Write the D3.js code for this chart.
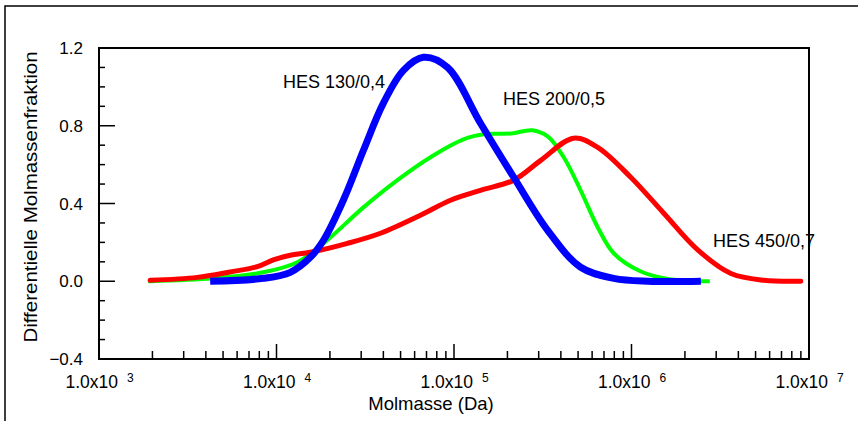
<!DOCTYPE html>
<html>
<head>
<meta charset="utf-8">
<script src="https://cdn.jsdelivr.net/npm/d3@7"></script>
<style>
body{margin:0;background:#fff;}
text{font-family:"Liberation Sans",Arial,sans-serif;fill:#000;}
</style>
</head>
<body>
<script>
// molmass (Da) / differential fraction
const hes130 = [[4230,0.0],[8420,0.015],[11960,0.046],[15500,0.123],[18400,0.211],[23800,0.417],
	[30900,0.674],[40000,0.916],[51900,1.085],[67300,1.152],[91900,1.10],[141000,0.813],
	[217000,0.535],[337000,0.262],[517000,0.072],[794000,0.015],[1240000,0.0],[2460000,0.0]];
const hes200 = [[1940,0.0],[4400,0.015],[8420,0.046],[13100,0.098],[18400,0.195],[30900,0.38],
	[48000,0.52],[73700,0.638],[113000,0.73],[150000,0.757],[210000,0.76],[275000,0.777],
	[337000,0.745],[415000,0.638],[517000,0.468],[645000,0.278],[794000,0.144],[1130000,0.05],
	[1600000,0.012],[2690000,0.0]];
const hes450 = [[1940,0.005],[3570,0.02],[5480,0.048],[7790,0.075],[9590,0.11],[11960,0.134],
	[15500,0.149],[25100,0.195],[38500,0.247],[64700,0.34],[95500,0.417],[141000,0.468],
	[217000,0.52],[308000,0.622],[472000,0.736],[645000,0.689],[990000,0.535],[1520000,0.35],
	[2370000,0.16],[3630000,0.04],[5570000,0.005],[9000000,0.0]];
const yTicks = [-0.4,0.0,0.4,0.8,1.2];
const xTicks = [1e3,1e4,1e5,1e6,1e7];
const xExp = ["3","4","5","6","7"];
const labels = [["HES 130/0,4",283,88],["HES 200/0,5",503,105],["HES 450/0,7",713,247]];

const W = 858, H = 421;
const svg = d3.select("body").append("svg").attr("width",W).attr("height",H);

// outer frame (top + left visible)
svg.append("path").attr("d","M5,421V6H858").attr("fill","none").attr("stroke","#000").attr("stroke-width",1.5);

const x = d3.scaleLog().domain([1e3,1e7]).range([99,809]);
const y = d3.scaleLinear().domain([-0.4,1.2]).range([359,48]);

function htext(g,str,tx,ty,size,anchor){
	return g.append("text")
		.attr("x",tx).attr("y",ty)
		.attr("font-size",size)
		.attr("text-anchor",anchor||"start")
		.text(str);
}

// minor + major ticks
const ax = svg.append("g").attr("stroke","#000");
x.ticks().forEach(function(t){
	const major = xTicks.indexOf(t) >= 0;
	ax.append("line").attr("x1",x(t)).attr("x2",x(t))
		.attr("y1",359).attr("y2",359-(major?15:8)).attr("stroke-width",1.5);
});
d3.range(-4,13).forEach(function(i){
	const v = i/10, major = i%4==0;
	ax.append("line").attr("x1",99).attr("x2",99+(major?16:6))
		.attr("y1",y(v)).attr("y2",y(v)).attr("stroke-width",1.5);
});
// frame of plot
ax.append("rect").attr("x",99).attr("y",48).attr("width",710).attr("height",311)
	.attr("fill","none").attr("stroke-width",2);

// tick labels
yTicks.forEach(function(v){
	htext(svg,d3.format(".1f")(v),83,y(v)+6,17,"end");
});
xTicks.forEach(function(t,i){
	htext(svg,"1.0x10",x(t)+19,388,17.5,"end");
	htext(svg,xExp[i],x(t)+28,382,12,"start");
});

// axis titles
htext(svg,"Molmasse (Da)",431,410,18.5,"middle");
svg.append("text")
	.attr("transform","translate(37,197) scale(0.92,1) rotate(-90)")
	.attr("font-size",20.5).attr("text-anchor","middle")
	.text("Differentielle Molmassenfraktion");

// curves
const line = d3.line().x(d=>x(d[0])).y(d=>y(d[1])).curve(d3.curveCatmullRom.alpha(0.5));
svg.append("path").datum(hes200).attr("d",line).attr("fill","none")
	.attr("stroke","#00ff00").attr("stroke-width",4).attr("stroke-linecap","square");
svg.append("path").datum(hes450).attr("d",line).attr("fill","none")
	.attr("stroke","#ff0000").attr("stroke-width",5).attr("stroke-linecap","round");
svg.append("path").datum(hes130).attr("d",line).attr("fill","none")
	.attr("stroke","#0000ff").attr("stroke-width",7).attr("stroke-linecap","butt");

labels.forEach(function(l){ htext(svg,l[0],l[1],l[2],18,"start"); });
</script>
</body>
</html>
